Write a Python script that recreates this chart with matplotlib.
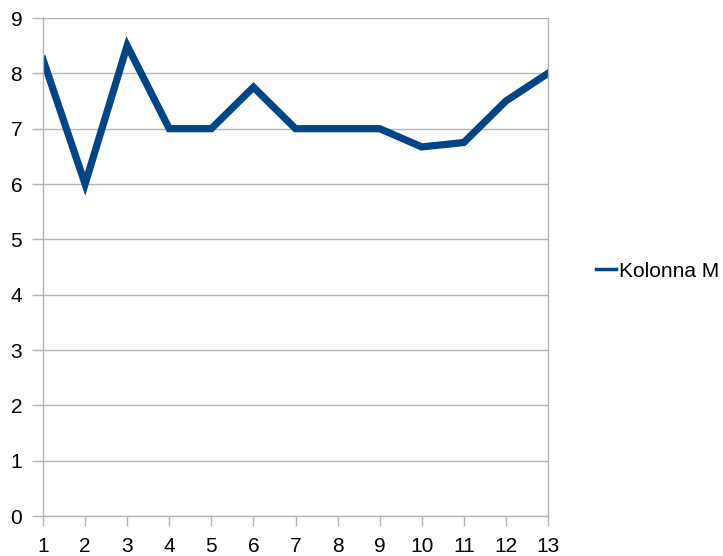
import matplotlib.pyplot as plt
from matplotlib.lines import Line2D

plt.rcParams['font.family'] = ['Liberation Sans', 'DejaVu Sans']

x_vals = [1, 2, 3, 4, 5, 6, 7, 8, 9, 10, 11, 12, 13]
kolonna_m = [8.25, 6, 8.5, 7, 7, 7.75, 7, 7, 7, 6.67, 6.75, 7.5, 8]
y_ticks = [0, 1, 2, 3, 4, 5, 6, 7, 8, 9]

grid_col = '#b3b3b3'
line_col = '#004586'

fig = plt.figure(figsize=(7.23, 5.56), dpi=100)
ax = fig.add_axes([43 / 723, 40 / 556, (548 - 43) / 723, (516 - 18) / 556])

ax.plot(x_vals, kolonna_m, color=line_col, linewidth=5.2,
        solid_joinstyle='miter')

ax.set_xlim(1, 13)
ax.set_ylim(0, 9)
ax.set_xticks(x_vals)
ax.set_yticks(y_ticks)
ax.yaxis.grid(True, color=grid_col, linewidth=1)
ax.set_axisbelow(True)

for side in ['left', 'right', 'bottom']:
    ax.spines[side].set_color(grid_col)
    ax.spines[side].set_linewidth(1)
ax.spines['top'].set_visible(False)

ax.tick_params(axis='both', colors=grid_col, labelcolor='black',
               labelsize=15, direction='out', width=1)
ax.tick_params(axis='x', length=7.5, pad=7.5)
ax.tick_params(axis='y', length=8, pad=7)

handle = Line2D([], [], color=line_col, linewidth=2.5)
fig.legend([handle], ['Kolonna M'], loc='center left',
           bbox_to_anchor=(596 / 723, 1 - 271 / 556),
           frameon=False, fontsize=15, handlelength=0.95, handletextpad=0.15,
           borderaxespad=0, borderpad=0)

fig.savefig('out.png', dpi=100)
